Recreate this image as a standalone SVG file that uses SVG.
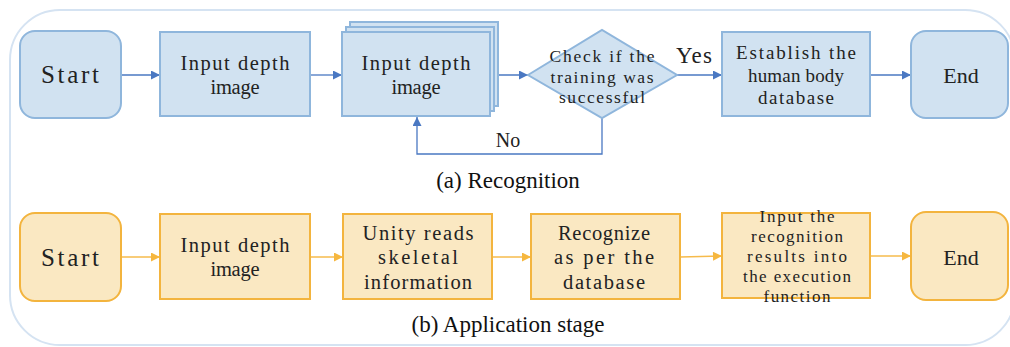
<svg xmlns="http://www.w3.org/2000/svg" width="1010" height="347" viewBox="0 0 1010 347">
  <style>
    .frame { fill: none; stroke: #d5e3f2; stroke-width: 2; }
    .bnode { fill: #d1e2f1; stroke: #8fb6dc; stroke-width: 2; }
    .onode { fill: #fae8c2; stroke: #f3b43e; stroke-width: 2; }
    .bline { fill: none; stroke: #4a78c2; stroke-width: 1.3; }
    .oline { fill: none; stroke: #f6bb4c; stroke-width: 1.3; }
    .t { font-family: "Liberation Serif", "Times New Roman", serif; fill: #222; text-anchor: middle; }
    .cap { font-family: "Liberation Serif", "Times New Roman", serif; fill: #111; font-size: 23px; text-anchor: middle; }
  </style>
  <defs>
    <marker id="arrowB" viewBox="0 0 10 10" markerUnits="userSpaceOnUse" markerWidth="10" markerHeight="9" refX="10" refY="5" orient="auto">
      <path d="M0,0 L10,5 L0,10 z" fill="#4a78c2"/>
    </marker>
    <marker id="arrowO" viewBox="0 0 10 10" markerUnits="userSpaceOnUse" markerWidth="10" markerHeight="9" refX="10" refY="5" orient="auto">
      <path d="M0,0 L10,5 L0,10 z" fill="#f6b73f"/>
    </marker>
  </defs>

  <!-- outer frame -->
  <rect class="frame" x="10" y="10" width="1005" height="335" rx="50" ry="50"/>

  <!-- connectors -->
  <g id="connectors">
    <path class="bline" d="M121,75 H160" marker-end="url(#arrowB)"/>
    <path class="bline" d="M310,75 H342" marker-end="url(#arrowB)"/>
    <path class="bline" d="M490,75 H528" marker-end="url(#arrowB)"/>
    <path class="bline" d="M677,75 H722" marker-end="url(#arrowB)"/>
    <path class="bline" d="M870,75 H911" marker-end="url(#arrowB)"/>
    <path class="bline" d="M602,118 V154 H417 V117" marker-end="url(#arrowB)"/>
    <text class="t" x="508" y="147" font-size="20">No</text>
    <text class="t" x="694" y="63" font-size="23" textLength="36" lengthAdjust="spacing">Yes</text>

    <path class="oline" d="M121,257 H160" marker-end="url(#arrowO)"/>
    <path class="oline" d="M310,257 H343" marker-end="url(#arrowO)"/>
    <path class="oline" d="M492,257 H531" marker-end="url(#arrowO)"/>
    <path class="oline" d="M680,257 L722,256" marker-end="url(#arrowO)"/>
    <path class="oline" d="M870,256 H911" marker-end="url(#arrowO)"/>
  </g>

  <!-- (a) recognition row -->
  <g id="a-start">
    <rect class="bnode" x="20" y="31" width="101" height="87" rx="15"/>
    <text class="t" x="70" y="83" font-size="25" textLength="58" lengthAdjust="spacing">Start</text>
  </g>
  <g id="a-input">
    <rect class="bnode" x="160" y="32" width="150" height="84"/>
    <text class="t" x="235" y="70" font-size="20.5" textLength="109" lengthAdjust="spacing">Input depth</text>
    <text class="t" x="235" y="94" font-size="20.5" textLength="49" lengthAdjust="spacing">image</text>
  </g>
  <g id="a-input-stack">
    <rect class="bnode" x="350" y="22" width="148" height="84" stroke-width="1.5"/>
    <rect class="bnode" x="346" y="27" width="148" height="84" stroke-width="1.5"/>
    <rect class="bnode" x="342" y="32" width="148" height="84"/>
    <text class="t" x="416" y="70" font-size="20.5" textLength="109" lengthAdjust="spacing">Input depth</text>
    <text class="t" x="416" y="94" font-size="20.5" textLength="49" lengthAdjust="spacing">image</text>
  </g>
  <g id="a-check">
    <polygon class="bnode" points="528,75 602,30 677,75 602,118"/>
    <text class="t" x="602" y="62" font-size="17.5" textLength="105" lengthAdjust="spacing">Check if the</text>
    <text class="t" x="602" y="83" font-size="17.5" textLength="103" lengthAdjust="spacing">training was</text>
    <text class="t" x="602" y="103" font-size="17.5" textLength="86" lengthAdjust="spacing">successful</text>
  </g>
  <g id="a-establish">
    <rect class="bnode" x="722" y="32" width="148" height="84"/>
    <text class="t" x="796" y="59" font-size="19" textLength="120" lengthAdjust="spacing">Establish the</text>
    <text class="t" x="796" y="82" font-size="19" textLength="96" lengthAdjust="spacing">human body</text>
    <text class="t" x="796" y="104" font-size="19" textLength="76" lengthAdjust="spacing">database</text>
  </g>
  <g id="a-end">
    <rect class="bnode" x="911" y="31" width="97" height="87" rx="15"/>
    <text class="t" x="961" y="83" font-size="22">End</text>
  </g>
  <text class="cap" x="508" y="188">(a) Recognition</text>

  <!-- (b) application row -->
  <g id="b-start">
    <rect class="onode" x="20" y="213" width="101" height="88" rx="15"/>
    <text class="t" x="70" y="266" font-size="25" textLength="58" lengthAdjust="spacing">Start</text>
  </g>
  <g id="b-input">
    <rect class="onode" x="160" y="214" width="150" height="85"/>
    <text class="t" x="235" y="252" font-size="20.5" textLength="109" lengthAdjust="spacing">Input depth</text>
    <text class="t" x="235" y="276" font-size="20.5" textLength="49" lengthAdjust="spacing">image</text>
  </g>
  <g id="b-unity">
    <rect class="onode" x="343" y="214" width="149" height="85"/>
    <text class="t" x="418" y="240" font-size="20.5" textLength="111" lengthAdjust="spacing">Unity reads</text>
    <text class="t" x="418" y="264" font-size="20.5" textLength="80" lengthAdjust="spacing">skeletal</text>
    <text class="t" x="418" y="289" font-size="20.5" textLength="108" lengthAdjust="spacing">information</text>
  </g>
  <g id="b-recognize">
    <rect class="onode" x="531" y="214" width="149" height="85"/>
    <text class="t" x="604" y="240" font-size="20.5" textLength="92" lengthAdjust="spacing">Recognize</text>
    <text class="t" x="604" y="264" font-size="20.5" textLength="100" lengthAdjust="spacing">as per the</text>
    <text class="t" x="604" y="289" font-size="20.5" textLength="82" lengthAdjust="spacing">database</text>
  </g>
  <g id="b-execute">
    <rect class="onode" x="722" y="213" width="148" height="85"/>
    <text class="t" x="797" y="222" font-size="17" textLength="75" lengthAdjust="spacing">Input the</text>
    <text class="t" x="797" y="242" font-size="17" textLength="92" lengthAdjust="spacing">recognition</text>
    <text class="t" x="797" y="262" font-size="17" textLength="100" lengthAdjust="spacing">results into</text>
    <text class="t" x="797" y="282" font-size="17" textLength="108" lengthAdjust="spacing">the execution</text>
    <text class="t" x="797" y="302" font-size="17" textLength="67" lengthAdjust="spacing">function</text>
  </g>
  <g id="b-end">
    <rect class="onode" x="911" y="212" width="97" height="88" rx="15"/>
    <text class="t" x="961" y="265" font-size="22">End</text>
  </g>
  <text class="cap" x="508" y="332">(b) Application stage</text>
</svg>
